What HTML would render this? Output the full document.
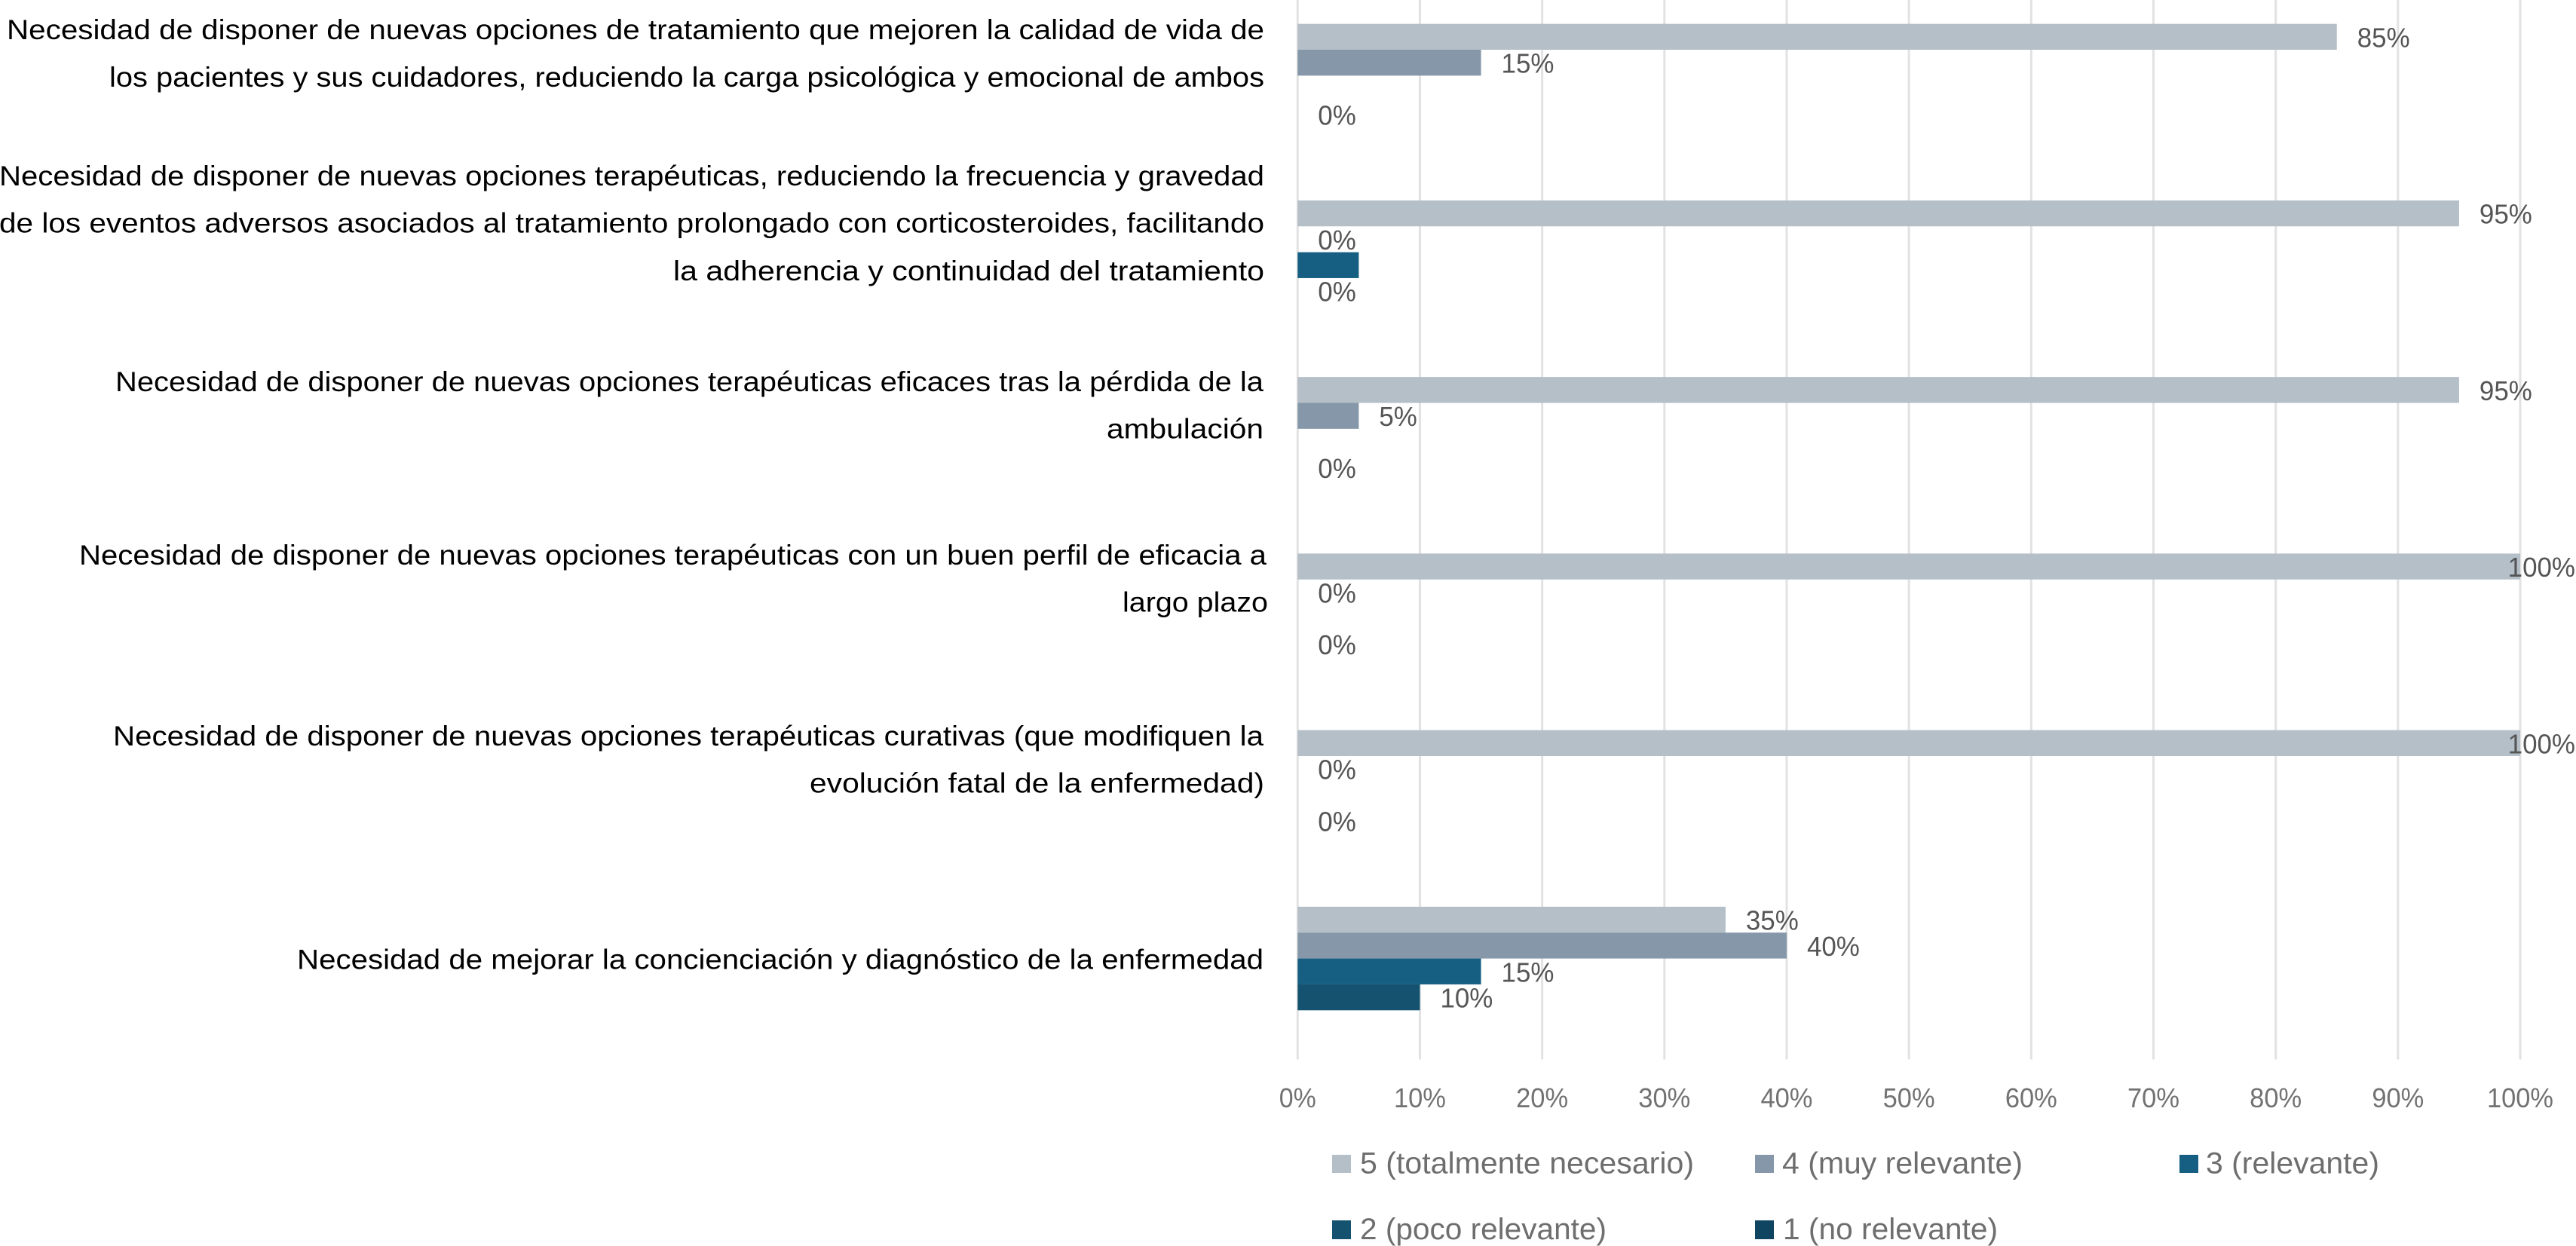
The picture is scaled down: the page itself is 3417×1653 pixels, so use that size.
<!DOCTYPE html>
<html lang="es">
<head>
<meta charset="utf-8">
<title>Necesidades no cubiertas</title>
<style>
  html,body{margin:0;padding:0;background:#fff;}
  body{width:3417px;height:1653px;overflow:hidden;}
  svg{display:block;}
  text{font-family:"Liberation Sans",sans-serif;}
  .cat{font-size:37px;fill:#000;}
  .leg{font-size:40px;fill:#6e6e6e;}
  .tick{font-size:36px;fill:#727272;text-anchor:middle;}
  .val{font-size:36px;fill:#555;}
</style>
</head>
<body>
<svg id="chart" xmlns="http://www.w3.org/2000/svg" width="3417" height="1653" viewBox="0 0 3417 1653">
  <rect x="0" y="0" width="3417" height="1653" fill="#fff"/>
  <g id="grid"></g>
  <g id="bars"></g>
  <g id="values"></g>
  <g id="ticks"></g>

  <g>
    <text class="cat" x="9" y="52" textLength="1668" lengthAdjust="spacingAndGlyphs">Necesidad de disponer de nuevas opciones de tratamiento que mejoren la calidad de vida de</text>
    <text class="cat" x="145" y="115" textLength="1532" lengthAdjust="spacingAndGlyphs">los pacientes y sus cuidadores, reduciendo la carga psicológica y emocional de ambos</text>
    <text class="cat" x="-1" y="246" textLength="1678" lengthAdjust="spacingAndGlyphs">Necesidad de disponer de nuevas opciones terapéuticas, reduciendo la frecuencia y gravedad</text>
    <text class="cat" x="-1" y="308.5" textLength="1678" lengthAdjust="spacingAndGlyphs">de los eventos adversos asociados al tratamiento prolongado con corticosteroides, facilitando</text>
    <text class="cat" x="893" y="372" textLength="784" lengthAdjust="spacingAndGlyphs">la adherencia y continuidad del tratamiento</text>
    <text class="cat" x="153" y="519" textLength="1523" lengthAdjust="spacingAndGlyphs">Necesidad de disponer de nuevas opciones terapéuticas eficaces tras la pérdida de la</text>
    <text class="cat" x="1468" y="581.7" textLength="208" lengthAdjust="spacingAndGlyphs">ambulación</text>
    <text class="cat" x="105" y="749" textLength="1575" lengthAdjust="spacingAndGlyphs">Necesidad de disponer de nuevas opciones terapéuticas con un buen perfil de eficacia a</text>
    <text class="cat" x="1489" y="811.7" textLength="193" lengthAdjust="spacingAndGlyphs">largo plazo</text>
    <text class="cat" x="150" y="989" textLength="1526" lengthAdjust="spacingAndGlyphs">Necesidad de disponer de nuevas opciones terapéuticas curativas (que modifiquen la</text>
    <text class="cat" x="1074" y="1051.7" textLength="603" lengthAdjust="spacingAndGlyphs">evolución fatal de la enfermedad)</text>
    <text class="cat" x="394" y="1285.7" textLength="1282" lengthAdjust="spacingAndGlyphs">Necesidad de mejorar la concienciación y diagnóstico de la enfermedad</text>
  </g>

  <g>
    <g>
      <rect x="1767" y="1532" width="25" height="24" fill="#b4bfc8"/>
      <text class="leg" x="1804" y="1556.7" textLength="443" lengthAdjust="spacingAndGlyphs">5 (totalmente necesario)</text>
    </g>
    <g>
      <rect x="2328" y="1532" width="25" height="24" fill="#8597a8"/>
      <text class="leg" x="2364" y="1556.7" textLength="319" lengthAdjust="spacingAndGlyphs">4 (muy relevante)</text>
    </g>
    <g>
      <rect x="2891" y="1532" width="25" height="24" fill="#165f83"/>
      <text class="leg" x="2926" y="1556.7" textLength="230" lengthAdjust="spacingAndGlyphs">3 (relevante)</text>
    </g>
    <g>
      <rect x="1767" y="1619" width="25" height="25" fill="#14526f"/>
      <text class="leg" x="1804" y="1644" textLength="327" lengthAdjust="spacingAndGlyphs">2 (poco relevante)</text>
    </g>
    <g>
      <rect x="2328" y="1619" width="25" height="25" fill="#0f4560"/>
      <text class="leg" x="2365" y="1644" textLength="285" lengthAdjust="spacingAndGlyphs">1 (no relevante)</text>
    </g>
  </g>
</svg>

<script>
// ---- Chart data ----
const categories = ['calidad-de-vida', 'eventos-adversos', 'perdida-ambulacion', 'eficacia-largo-plazo', 'curativas', 'concienciacion-diagnostico'];
const seriesNames = ['5', '4', '3', '2', '1'];
const series5Values = [85, 95, 95, 100, 100, 35];
const series4Values = [15, 0, 5, 0, 0, 40];
const series3Values = [0, 5, 0, 0, 0, 15];
const series2Values = [0, 0, 0, 0, 0, 10];
const series1Values = [0, 0, 0, 0, 0, 0];
const series5Labels = ['85%', '95%', '95%', '100%', '100%', '35%'];
const series4Labels = ['15%', '0%', '5%', '0%', '0%', '40%'];
const series3Labels = ['', '', '', '', '', '15%'];
const series2Labels = ['0%', '0%', '0%', '0%', '0%', '10%'];
const series1Labels = ['', '', '', '', '', ''];
const tickValues = [0, 10, 20, 30, 40, 50, 60, 70, 80, 90, 100];
const tickLabels = ['0%', '10%', '20%', '30%', '40%', '50%', '60%', '70%', '80%', '90%', '100%'];

// ---- Layout ----
const NS = 'http://www.w3.org/2000/svg';
const plotLeft = 1721.3, plotRight = 3343, plotTop = 0.4, plotBottom = 1405.9;
const bandHeight = (plotBottom - plotTop) / categories.length;
const slotCount = seriesNames.length;
const barHeight = 34.35;
const bandPad = (bandHeight - barHeight * slotCount) / 2;
const seriesValues = [series5Values, series4Values, series3Values, series2Values, series1Values];
const seriesLabels = [series5Labels, series4Labels, series3Labels, series2Labels, series1Labels];
const seriesColors = ['#b4bfc8', '#8597a8', '#165f83', '#14526f', '#0f4560'];

function xScale(v) { return plotLeft + (plotRight - plotLeft) * v / 100; }
function yScale(catIndex, slot) { return plotTop + bandHeight * catIndex + bandPad + barHeight * slot; }

const gridGroup = document.getElementById('grid');
const barsGroup = document.getElementById('bars');
const valuesGroup = document.getElementById('values');
const ticksGroup = document.getElementById('ticks');

tickValues.forEach(function (t, i) {
  const line = document.createElementNS(NS, 'line');
  
  
  line.setAttribute('x1', xScale(t));
  line.setAttribute('x2', xScale(t));
  line.setAttribute('y1', 0);
  line.setAttribute('y2', 1405.5);
  line.setAttribute('stroke', '#e2e2e2');
  line.setAttribute('stroke-width', '3');
  gridGroup.appendChild(line);

  const label = document.createElementNS(NS, 'text');
  
  
  label.setAttribute('class', 'tick');
  label.setAttribute('x', xScale(t));
  label.setAttribute('y', 1469);
  label.setAttribute('textLength', tickLabels[i].length === 2 ? 49 : (tickLabels[i].length === 3 ? 69 : 88));
  label.setAttribute('lengthAdjust', 'spacingAndGlyphs');
  label.textContent = tickLabels[i];
  ticksGroup.appendChild(label);
});

seriesValues.forEach(function (values, s) {
  values.forEach(function (v, c) {
    const y = yScale(c, s);
    if (v > 0) {
      const bar = document.createElementNS(NS, 'rect');
      
      
      bar.setAttribute('x', xScale(0));
      bar.setAttribute('y', y);
      bar.setAttribute('width', xScale(v) - xScale(0));
      bar.setAttribute('height', barHeight);
      bar.setAttribute('fill', seriesColors[s]);
      barsGroup.appendChild(bar);
    }
    const printed = seriesLabels[s][c];
    if (printed) {
      const text = document.createElementNS(NS, 'text');
      
      
      text.setAttribute('class', 'val');
      text.setAttribute('y', y + 30.7);
      text.textContent = printed;
      valuesGroup.appendChild(text);
      const w = text.getComputedTextLength() * 0.97;
      text.setAttribute('textLength', w);
      text.setAttribute('lengthAdjust', 'spacingAndGlyphs');
      text.setAttribute('x', Math.min(xScale(v) + 27, 3417 - w - 1));
    }
  });
});
</script>
</body>
</html>
